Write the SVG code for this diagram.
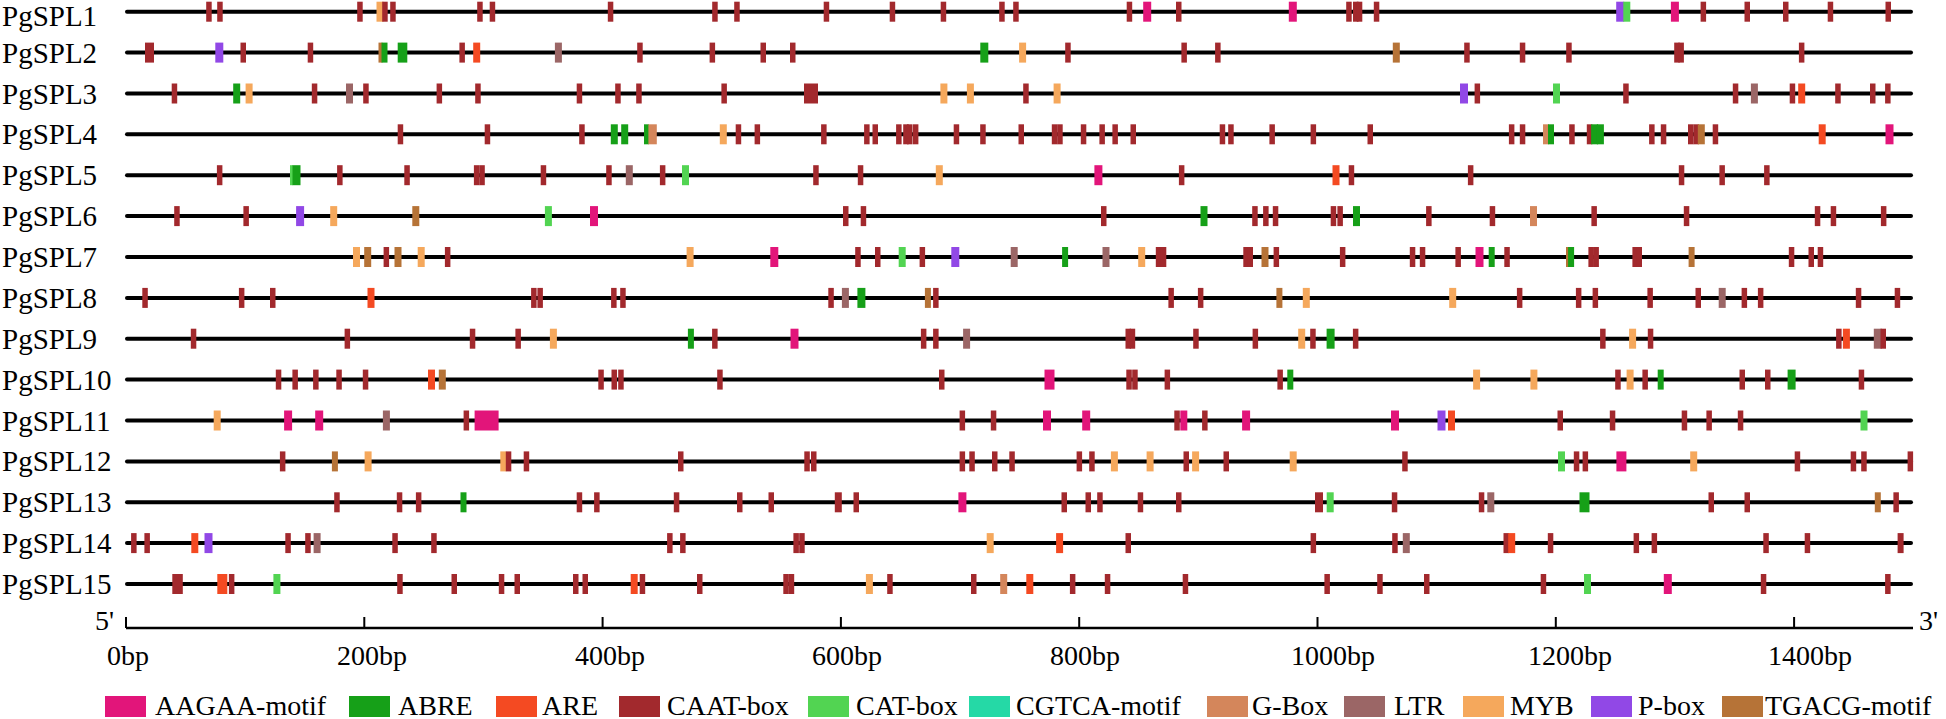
<svg xmlns="http://www.w3.org/2000/svg" xmlns:xlink="http://www.w3.org/1999/xlink" width="1946" height="719" viewBox="0 0 1946 719">
<style>
.ln{stroke:#000;stroke-width:4;stroke-linecap:round}
.t{font-family:"Liberation Serif","Times New Roman",serif;font-size:28px;fill:#000}
.rl{font-size:29px}
.pk{fill:#E2157A}.ab{fill:#16A018}.ar{fill:#F44A22}.c{fill:#A2292D}.ct{fill:#52D452}.cg{fill:#25D9A6}.g{fill:#D4865B}.l{fill:#9B6666}.m{fill:#F5A85C}.p{fill:#9148E6}.tg{fill:#B67337}
</style>
<defs>
<rect id="C" class="c" y="-10" width="5.5" height="20"/>
<rect id="Pk" class="pk" y="-10" width="8" height="20"/>
<rect id="AB" class="ab" y="-10" width="7" height="20"/>
<rect id="AR" class="ar" y="-10" width="7" height="20"/>
<rect id="CT" class="ct" y="-10" width="7" height="20"/>
<rect id="G" class="g" y="-10" width="7" height="20"/>
<rect id="L" class="l" y="-10" width="7" height="20"/>
<rect id="M" class="m" y="-10" width="7" height="20"/>
<rect id="P" class="p" y="-10" width="8" height="20"/>
<rect id="T" class="tg" y="-10" width="7" height="20"/>
</defs>
<rect width="1946" height="719" fill="#fff"/>

<g id="PgSPL1" transform="translate(0,11.7)">
<line class="ln" x1="127" y1="0" x2="1911" y2="0"/>
<text class="t rl" x="2" y="14.5">PgSPL1</text>
<use href="#C" x="206.2"/><use href="#C" x="217.2"/><use href="#C" x="357.2"/><use href="#M" x="376.5"/><use href="#C" x="382.2"/><use href="#C" x="390.2"/><use href="#C" x="477.2"/><use href="#C" x="489.7"/><use href="#C" x="607.8"/><use href="#C" x="712.2"/><use href="#C" x="734.2"/><use href="#C" x="823.7"/><use href="#C" x="889.7"/><use href="#C" x="940.7"/><use href="#C" x="999.2"/><use href="#C" x="1013.2"/><use href="#C" x="1126.7"/><use href="#Pk" x="1143.2"/><use href="#C" x="1176"/><use href="#Pk" x="1288.8"/><use href="#C" x="1346.2"/><use href="#C" x="1353"/><use href="#C" x="1356.8"/><use href="#C" x="1373.8"/><use href="#P" x="1616.2"/><use href="#CT" x="1623.3"/><use href="#Pk" x="1670.9"/><use href="#C" x="1700.6"/><use href="#C" x="1744.5"/><use href="#C" x="1783"/><use href="#C" x="1827.7"/><use href="#C" x="1885.5"/>
</g>

<g id="PgSPL2" transform="translate(0,52.6)">
<line class="ln" x1="127" y1="0" x2="1911" y2="0"/>
<text class="t rl" x="2" y="10">PgSPL2</text>
<rect class="c" x="145" y="-10" width="9" height="20"/><use href="#P" x="215.3"/><use href="#C" x="240.5"/><use href="#C" x="307.7"/><rect class="tg" x="378.5" y="-10" width="4" height="20"/><rect class="ab" x="381.5" y="-10" width="6" height="20"/><rect class="ab" x="397.7" y="-10" width="9.6" height="20"/><use href="#C" x="459.4"/><use href="#AR" x="473.2"/><use href="#L" x="554.9"/><use href="#C" x="637.2"/><use href="#C" x="709.6"/><use href="#C" x="760.5"/><use href="#C" x="790"/><rect class="ab" x="980.3" y="-10" width="8" height="20"/><use href="#M" x="1019.1"/><use href="#C" x="1065.2"/><use href="#C" x="1181.4"/><use href="#C" x="1215.1"/><use href="#T" x="1392.8"/><use href="#C" x="1464.2"/><use href="#C" x="1519.8"/><use href="#C" x="1566.2"/><use href="#C" x="1674.2"/><use href="#C" x="1678.4"/><use href="#C" x="1798.9"/>
</g>

<g id="PgSPL3" transform="translate(0,93.5)">
<line class="ln" x1="127" y1="0" x2="1911" y2="0"/>
<text class="t rl" x="2" y="10">PgSPL3</text>
<use href="#C" x="171.7"/><use href="#AB" x="233.2"/><use href="#M" x="245.6"/><use href="#C" x="311.8"/><use href="#L" x="346"/><use href="#C" x="363.2"/><use href="#C" x="436.6"/><use href="#C" x="475.2"/><use href="#C" x="576.7"/><use href="#C" x="615.2"/><use href="#C" x="636.2"/><use href="#C" x="721.4"/><rect class="c" x="804" y="-10" width="14" height="20"/><use href="#M" x="940.4"/><use href="#M" x="966.9"/><use href="#C" x="1023.2"/><use href="#M" x="1053.6"/><use href="#P" x="1460"/><use href="#C" x="1474.6"/><use href="#CT" x="1553"/><use href="#C" x="1623.2"/><use href="#C" x="1732.8"/><use href="#L" x="1750.9"/><use href="#C" x="1789.7"/><use href="#AR" x="1798.2"/><use href="#C" x="1835.2"/><use href="#C" x="1870"/><use href="#C" x="1885.1"/>
</g>

<g id="PgSPL4" transform="translate(0,134.3)">
<line class="ln" x1="127" y1="0" x2="1911" y2="0"/>
<text class="t rl" x="2" y="10">PgSPL4</text>
<use href="#C" x="397.7"/><use href="#C" x="484.7"/><use href="#C" x="579.2"/><use href="#AB" x="610.8"/><use href="#AB" x="621.2"/><rect class="ab" x="644" y="-10" width="5" height="20"/><rect class="g" x="648.4" y="-10" width="8.4" height="20"/><use href="#M" x="719.8"/><use href="#C" x="735.7"/><use href="#C" x="754.6"/><use href="#C" x="821.1"/><use href="#C" x="864.1"/><use href="#C" x="872.5"/><use href="#C" x="896.1"/><use href="#C" x="903.2"/><use href="#C" x="907"/><use href="#C" x="912.9"/><use href="#C" x="953.7"/><use href="#C" x="980.2"/><use href="#C" x="1018.5"/><use href="#C" x="1051.8"/><use href="#C" x="1057.2"/><use href="#C" x="1080.8"/><use href="#C" x="1099.4"/><use href="#C" x="1112.4"/><use href="#C" x="1130.5"/><use href="#C" x="1219.7"/><use href="#C" x="1228.2"/><use href="#C" x="1269.4"/><use href="#C" x="1310.6"/><use href="#C" x="1367.5"/><use href="#C" x="1508.9"/><use href="#C" x="1519.8"/><rect class="g" x="1543" y="-10" width="6" height="20"/><rect class="ab" x="1548" y="-10" width="6" height="20"/><use href="#C" x="1569.2"/><use href="#C" x="1586.8"/><use href="#AB" x="1591.1"/><use href="#AB" x="1596.9"/><use href="#C" x="1649.1"/><use href="#C" x="1660.8"/><use href="#C" x="1688"/><use href="#C" x="1693.4"/><use href="#T" x="1697.8"/><use href="#C" x="1712.7"/><use href="#AR" x="1818.7"/><use href="#Pk" x="1885.5"/>
</g>

<g id="PgSPL5" transform="translate(0,175.2)">
<line class="ln" x1="127" y1="0" x2="1911" y2="0"/>
<text class="t rl" x="2" y="10">PgSPL5</text>
<use href="#C" x="216.9"/><rect class="ct" x="290" y="-10" width="3" height="20"/><rect class="ab" x="292.5" y="-10" width="8" height="20"/><use href="#C" x="337.1"/><use href="#C" x="404.3"/><use href="#C" x="473.9"/><use href="#C" x="479.3"/><use href="#C" x="540.7"/><use href="#C" x="606.2"/><use href="#L" x="625.8"/><use href="#C" x="659.9"/><use href="#CT" x="682"/><use href="#C" x="813.2"/><use href="#C" x="857.8"/><use href="#M" x="935.8"/><use href="#Pk" x="1094.4"/><use href="#C" x="1178.9"/><use href="#AR" x="1332.5"/><use href="#C" x="1348.7"/><use href="#C" x="1467.9"/><use href="#C" x="1678.8"/><use href="#C" x="1719.4"/><use href="#C" x="1764.1"/>
</g>

<g id="PgSPL6" transform="translate(0,216.1)">
<line class="ln" x1="127" y1="0" x2="1911" y2="0"/>
<text class="t rl" x="2" y="10">PgSPL6</text>
<use href="#C" x="174.2"/><use href="#C" x="243.4"/><use href="#P" x="296.1"/><use href="#M" x="330.2"/><use href="#T" x="412.3"/><use href="#CT" x="544.9"/><use href="#Pk" x="590"/><use href="#C" x="843"/><use href="#C" x="860.7"/><use href="#C" x="1101"/><use href="#AB" x="1200.5"/><use href="#C" x="1252.2"/><use href="#C" x="1263.1"/><use href="#C" x="1272.8"/><use href="#C" x="1330.7"/><use href="#C" x="1337.4"/><use href="#AB" x="1353"/><use href="#C" x="1426.1"/><use href="#C" x="1489.7"/><use href="#G" x="1530"/><use href="#C" x="1591.4"/><use href="#C" x="1683.8"/><use href="#C" x="1814.8"/><use href="#C" x="1830.7"/><use href="#C" x="1880.9"/>
</g>

<g id="PgSPL7" transform="translate(0,257)">
<line class="ln" x1="127" y1="0" x2="1911" y2="0"/>
<text class="t rl" x="2" y="10">PgSPL7</text>
<use href="#M" x="353"/><use href="#T" x="364.2"/><use href="#C" x="383.6"/><use href="#T" x="394.5"/><use href="#M" x="417.7"/><use href="#C" x="444.9"/><use href="#M" x="686.6"/><use href="#Pk" x="770.3"/><use href="#C" x="855.2"/><use href="#C" x="875"/><use href="#CT" x="898.7"/><use href="#C" x="919.6"/><use href="#P" x="951.3"/><use href="#L" x="1010.7"/><rect class="ab" x="1062.1" y="-10" width="6" height="20"/><use href="#L" x="1102.5"/><use href="#M" x="1138.2"/><use href="#C" x="1155.8"/><use href="#C" x="1160.8"/><use href="#C" x="1243.3"/><use href="#C" x="1247.5"/><use href="#T" x="1261.5"/><use href="#C" x="1273.6"/><use href="#C" x="1339.9"/><use href="#C" x="1409.8"/><use href="#C" x="1419.8"/><use href="#C" x="1455.4"/><use href="#Pk" x="1475.5"/><rect class="ab" x="1488.7" y="-10" width="6" height="20"/><use href="#C" x="1504.3"/><rect class="tg" x="1566" y="-10" width="3" height="20"/><rect class="ab" x="1568.1" y="-10" width="6" height="20"/><use href="#C" x="1588.4"/><use href="#C" x="1593.4"/><use href="#C" x="1632.4"/><use href="#C" x="1636.5"/><rect class="tg" x="1688.6" y="-10" width="6" height="20"/><use href="#C" x="1788.8"/><use href="#C" x="1808.5"/><use href="#C" x="1817.7"/>
</g>

<g id="PgSPL8" transform="translate(0,297.9)">
<line class="ln" x1="127" y1="0" x2="1911" y2="0"/>
<text class="t rl" x="2" y="10">PgSPL8</text>
<use href="#C" x="142.3"/><use href="#C" x="238.9"/><use href="#C" x="270"/><use href="#AR" x="367.5"/><use href="#C" x="531.1"/><use href="#C" x="537.4"/><use href="#C" x="611.1"/><use href="#C" x="620.2"/><use href="#C" x="828.3"/><use href="#L" x="841.9"/><rect class="ab" x="857.4" y="-10" width="8" height="20"/><rect class="tg" x="924.9" y="-10" width="6" height="20"/><use href="#C" x="933.1"/><use href="#C" x="1168.4"/><use href="#C" x="1197.9"/><rect class="tg" x="1276.4" y="-10" width="6" height="20"/><use href="#M" x="1302.8"/><use href="#M" x="1449.2"/><use href="#C" x="1516.9"/><use href="#C" x="1575.9"/><use href="#C" x="1592.6"/><use href="#C" x="1647.4"/><use href="#C" x="1695.5"/><use href="#L" x="1718.7"/><use href="#C" x="1741.6"/><use href="#C" x="1757.9"/><use href="#C" x="1855.8"/><use href="#C" x="1894.7"/>
</g>

<g id="PgSPL9" transform="translate(0,338.7)">
<line class="ln" x1="127" y1="0" x2="1911" y2="0"/>
<text class="t rl" x="2" y="10">PgSPL9</text>
<use href="#C" x="190.8"/><use href="#C" x="344.6"/><use href="#C" x="469.8"/><use href="#C" x="515.4"/><use href="#M" x="549.9"/><rect class="ab" x="687.9" y="-10" width="6" height="20"/><use href="#C" x="712.1"/><use href="#Pk" x="790.5"/><use href="#C" x="920.9"/><use href="#C" x="933.1"/><use href="#L" x="963.1"/><use href="#C" x="1125.5"/><use href="#C" x="1129.7"/><use href="#C" x="1193.2"/><use href="#C" x="1252.6"/><use href="#M" x="1298.2"/><use href="#C" x="1310.2"/><rect class="ab" x="1326.6" y="-10" width="8" height="20"/><use href="#C" x="1352.9"/><use href="#C" x="1600.1"/><use href="#M" x="1629.1"/><use href="#C" x="1647.8"/><use href="#C" x="1836.1"/><use href="#AR" x="1842.9"/><rect class="l" x="1873.8" y="-10" width="8" height="20"/><use href="#C" x="1880.5"/>
</g>

<g id="PgSPL10" transform="translate(0,379.6)">
<line class="ln" x1="127" y1="0" x2="1911" y2="0"/>
<text class="t rl" x="2" y="10">PgSPL10</text>
<use href="#C" x="275.8"/><use href="#C" x="292.4"/><use href="#C" x="313.1"/><use href="#C" x="336.3"/><use href="#C" x="362.8"/><use href="#AR" x="428"/><use href="#T" x="438.8"/><use href="#C" x="598.3"/><use href="#C" x="611.5"/><use href="#C" x="618.2"/><use href="#C" x="717.2"/><use href="#C" x="939"/><rect class="pk" x="1044.5" y="-10" width="10" height="20"/><use href="#C" x="1126.3"/><use href="#C" x="1132.2"/><use href="#C" x="1164.6"/><use href="#C" x="1277.4"/><rect class="ab" x="1287.3" y="-10" width="6" height="20"/><use href="#M" x="1473.1"/><use href="#M" x="1530.4"/><use href="#C" x="1615.2"/><use href="#M" x="1626.6"/><use href="#C" x="1642.4"/><rect class="ab" x="1657.7" y="-10" width="6" height="20"/><use href="#C" x="1739.5"/><use href="#C" x="1765"/><rect class="ab" x="1787.6" y="-10" width="8" height="20"/><use href="#C" x="1858.7"/>
</g>

<g id="PgSPL11" transform="translate(0,420.5)">
<line class="ln" x1="127" y1="0" x2="1911" y2="0"/>
<text class="t rl" x="2" y="10">PgSPL11</text>
<use href="#M" x="213.7"/><use href="#Pk" x="284.1"/><use href="#Pk" x="315.2"/><use href="#L" x="382.9"/><use href="#C" x="463.6"/><rect class="pk" x="474.6" y="-10" width="24" height="20"/><use href="#C" x="959.6"/><use href="#C" x="990.8"/><use href="#Pk" x="1043"/><use href="#Pk" x="1082.2"/><use href="#C" x="1174.3"/><rect class="pk" x="1180.3" y="-10" width="7" height="20"/><use href="#C" x="1202.1"/><use href="#Pk" x="1242.1"/><use href="#Pk" x="1391"/><use href="#P" x="1437.5"/><use href="#AR" x="1448"/><use href="#C" x="1557.5"/><use href="#C" x="1609.8"/><use href="#C" x="1681.7"/><use href="#C" x="1706.4"/><use href="#C" x="1737.8"/><use href="#CT" x="1860.5"/>
</g>

<g id="PgSPL12" transform="translate(0,461.4)">
<line class="ln" x1="127" y1="0" x2="1911" y2="0"/>
<text class="t rl" x="2" y="10">PgSPL12</text>
<use href="#C" x="279.9"/><rect class="tg" x="331.9" y="-10" width="6" height="20"/><use href="#M" x="364.6"/><rect class="m" x="500.3" y="-10" width="6" height="20"/><use href="#C" x="505.8"/><use href="#C" x="523.7"/><use href="#C" x="678"/><use href="#C" x="804.3"/><use href="#C" x="811"/><use href="#C" x="959.6"/><use href="#C" x="969.3"/><use href="#C" x="992"/><use href="#C" x="1009.3"/><use href="#C" x="1076.6"/><use href="#C" x="1089.2"/><use href="#M" x="1110.9"/><use href="#M" x="1146.6"/><use href="#C" x="1183.5"/><use href="#M" x="1192.1"/><use href="#C" x="1223.5"/><use href="#M" x="1289.7"/><use href="#C" x="1402.2"/><use href="#CT" x="1558"/><use href="#C" x="1573.8"/><use href="#C" x="1582.6"/><rect class="pk" x="1616.4" y="-10" width="10" height="20"/><use href="#M" x="1690.2"/><use href="#C" x="1794.7"/><use href="#C" x="1850.7"/><use href="#C" x="1861.2"/><use href="#C" x="1907.6"/>
</g>

<g id="PgSPL13" transform="translate(0,502.3)">
<line class="ln" x1="127" y1="0" x2="1911" y2="0"/>
<text class="t rl" x="2" y="10">PgSPL13</text>
<use href="#C" x="334.2"/><use href="#C" x="396.8"/><use href="#C" x="415.9"/><rect class="ab" x="460.5" y="-10" width="6" height="20"/><use href="#C" x="576.7"/><use href="#C" x="594.1"/><use href="#C" x="673.8"/><use href="#C" x="737"/><use href="#C" x="768.5"/><rect class="c" x="834.8" y="-10" width="7" height="20"/><use href="#C" x="853.5"/><use href="#Pk" x="958.4"/><use href="#C" x="1061.5"/><use href="#C" x="1085.5"/><use href="#C" x="1097.2"/><use href="#C" x="1137.7"/><use href="#C" x="1176"/><rect class="c" x="1315" y="-10" width="8" height="20"/><use href="#CT" x="1326.7"/><use href="#C" x="1391.8"/><use href="#C" x="1478.8"/><use href="#L" x="1487.3"/><rect class="ab" x="1579.5" y="-10" width="10" height="20"/><use href="#C" x="1708.5"/><use href="#C" x="1744.5"/><rect class="tg" x="1874.8" y="-10" width="6" height="20"/><use href="#C" x="1893.4"/>
</g>

<g id="PgSPL14" transform="translate(0,543.1)">
<line class="ln" x1="127" y1="0" x2="1911" y2="0"/>
<text class="t rl" x="2" y="10">PgSPL14</text>
<use href="#C" x="131.1"/><use href="#C" x="144.4"/><use href="#AR" x="191.3"/><use href="#P" x="204.5"/><use href="#C" x="285.3"/><use href="#C" x="305.2"/><use href="#L" x="313.6"/><use href="#C" x="392.3"/><use href="#C" x="431.2"/><use href="#C" x="667.1"/><use href="#C" x="680.1"/><use href="#C" x="793.4"/><use href="#C" x="799.2"/><use href="#M" x="986.7"/><use href="#AR" x="1056.1"/><use href="#C" x="1125.5"/><use href="#C" x="1310.6"/><use href="#C" x="1392.2"/><use href="#L" x="1402.8"/><use href="#C" x="1503.5"/><use href="#AR" x="1508.2"/><use href="#C" x="1547.8"/><use href="#C" x="1633.6"/><use href="#C" x="1651.6"/><use href="#C" x="1763.3"/><use href="#C" x="1804.7"/><rect class="c" x="1897.6" y="-10" width="6" height="20"/>
</g>

<g id="PgSPL15" transform="translate(0,584)">
<line class="ln" x1="127" y1="0" x2="1911" y2="0"/>
<text class="t rl" x="2" y="10">PgSPL15</text>
<rect class="c" x="172.3" y="-10" width="10.5" height="20"/><rect class="ar" x="217.3" y="-10" width="10" height="20"/><use href="#C" x="228.9"/><use href="#CT" x="273.4"/><use href="#C" x="397.2"/><use href="#C" x="451.5"/><use href="#C" x="498.8"/><use href="#C" x="514.5"/><use href="#C" x="573"/><use href="#C" x="582.5"/><use href="#AR" x="630.7"/><use href="#C" x="639.7"/><use href="#C" x="697"/><use href="#C" x="783.3"/><use href="#C" x="788.7"/><use href="#M" x="865.9"/><use href="#C" x="887.2"/><use href="#C" x="971"/><use href="#G" x="1000.2"/><use href="#AR" x="1026.3"/><use href="#C" x="1069.9"/><use href="#C" x="1104.8"/><use href="#C" x="1182.7"/><use href="#C" x="1324.4"/><use href="#C" x="1377.2"/><use href="#C" x="1424"/><use href="#C" x="1540.7"/><use href="#CT" x="1584"/><use href="#Pk" x="1663.8"/><use href="#C" x="1760.8"/><use href="#C" x="1885.1"/>
</g>

<g id="connectors"></g>

<g id="axis" transform="translate(0,6)">
<line x1="126" y1="622" x2="1913" y2="622" stroke="#000" stroke-width="2.5"/>
<path d="M126 611V622M364.3 611V622M602.6 611V622M840.9 611V622M1079.2 611V622M1317.5 611V622M1555.8 611V622M1794.1 611V622" stroke="#000" stroke-width="2" fill="none"/>
<text class="t" x="95" y="624">5'</text>
<text class="t" x="1919" y="624">3'</text>
<text class="t" x="107" y="659">0bp</text>
<text class="t" x="337" y="659">200bp</text>
<text class="t" x="575" y="659">400bp</text>
<text class="t" x="812" y="659">600bp</text>
<text class="t" x="1050" y="659">800bp</text>
<text class="t" x="1291" y="659">1000bp</text>
<text class="t" x="1528" y="659">1200bp</text>
<text class="t" x="1768" y="659">1400bp</text>
</g>

<g id="legend">
<rect class="pk" x="105" y="696" width="41" height="21"/><text class="t" x="155" y="715">AAGAA-motif</text>
<rect class="ab" x="349" y="696" width="41" height="21"/><text class="t" x="398" y="715">ABRE</text>
<rect class="ar" x="496" y="696" width="41" height="21"/><text class="t" x="542" y="715">ARE</text>
<rect class="c" x="619" y="696" width="41" height="21"/><text class="t" x="667" y="715">CAAT-box</text>
<rect class="ct" x="808" y="696" width="41" height="21"/><text class="t" x="856" y="715">CAT-box</text>
<rect class="cg" x="969" y="696" width="41" height="21"/><text class="t" x="1016" y="715">CGTCA-motif</text>
<rect class="g" x="1207" y="696" width="41" height="21"/><text class="t" x="1252" y="715">G-Box</text>
<rect class="l" x="1344" y="696" width="41" height="21"/><text class="t" x="1394" y="715">LTR</text>
<rect class="m" x="1463" y="696" width="41" height="21"/><text class="t" x="1510" y="715">MYB</text>
<rect class="p" x="1591" y="696" width="41" height="21"/><text class="t" x="1638" y="715">P-box</text>
<rect class="tg" x="1722" y="696" width="41" height="21"/><text class="t" x="1765" y="715">TGACG-motif</text>
</g>
</svg>
